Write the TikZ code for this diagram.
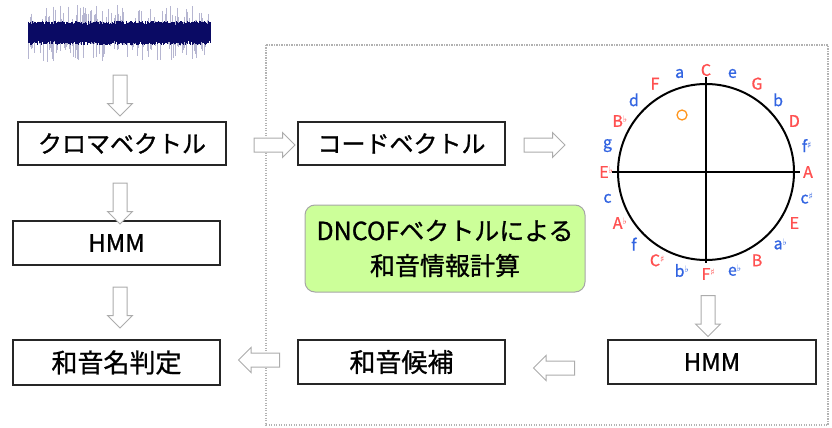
\documentclass[tikz,border=0pt]{standalone}
\usepackage{fontspec}
\setmainfont{Noto Sans CJK JP}
\newfontfamily\boxfont{Noto Sans CJK JP}[FakeBold=1.0]
\newfontfamily\symfont{DejaVu Sans}
\usetikzlibrary{shapes.arrows,calc}
\definecolor{navyw}{RGB}{10,10,100}
\definecolor{notered}{RGB}{255,80,80}
\definecolor{noteblue}{RGB}{50,100,225}
\definecolor{boxgreen}{RGB}{204,255,153}
\definecolor{ringorange}{RGB}{255,150,30}
\newcommand{\fl}{\rlap{\raisebox{0.45ex}{\fontsize{9pt}{9pt}\selectfont\symfont ♭}}}
\newcommand{\sh}{\rlap{\raisebox{0.45ex}{\fontsize{9pt}{9pt}\selectfont\symfont ♯}}}
\tikzset{
  stepbox/.style={draw=black!85, line width=1.1pt, fill=white, inner sep=0pt},
  katafont/.style={font=\boxfont\fontsize{24pt}{28pt}\selectfont},
  kanjifont/.style={font=\boxfont\fontsize{26pt}{30pt}\selectfont},
  hollowarrow/.style={single arrow, draw=gray!65, line width=1pt, fill=white,
     inner xsep=0pt, inner ysep=6.5pt, single arrow head extend=5.5pt,
     minimum height=41pt},
  noteR/.style={text=notered, font=\boxfont\fontsize{16pt}{18pt}\selectfont, inner sep=0pt},
  noteB/.style={text=noteblue, font=\boxfont\fontsize{16pt}{18pt}\selectfont, inner sep=0pt},
}
\begin{document}
\begin{tikzpicture}[x=1pt,y=-1pt]
\useasboundingbox (0,0) rectangle (832,428);

% dotted frame
\draw[gray!60, line width=1.2pt, dash pattern=on 1.2pt off 1.3pt] (266,45) rectangle (828,425);

% waveform
\pgfmathsetseed{42}
\foreach \i in {0,0.6,...,182}{
  \pgfmathsetmacro\u{8+20*rnd^5}
  \pgfmathsetmacro\d{8+21*rnd^5}
  \draw[navyw!30, line width=0.5pt] (28+\i,33-\u) -- (28+\i,33+\d);
}
\foreach \i in {0,0.5,...,182}{
  \pgfmathsetmacro\u{8+4*rnd}
  \pgfmathsetmacro\d{8+4*rnd}
  \draw[navyw, line width=0.6pt] (28+\i,33-\u) -- (28+\i,33+\d);
}
\coordinate (wave) at (120,33);

% boxes
\node[stepbox, katafont, minimum width=208pt, minimum height=43pt] (chroma) at (122,143.5) {クロマベクトル};
\node[stepbox, katafont, minimum width=207pt, minimum height=44pt] (hmmL) at (116.5,243) {HMM};
\node[stepbox, kanjifont, minimum width=207pt, minimum height=45pt] (judge) at (116.5,362.5) {和音名判定};
\node[stepbox, katafont, minimum width=207pt, minimum height=43pt] (code) at (401.5,143.5) {コードベクトル};
\node[stepbox, kanjifont, minimum width=207pt, minimum height=44pt] (cand) at (401.5,362) {和音候補};
\node[stepbox, katafont, minimum width=208pt, minimum height=44pt] (hmmR) at (712,362) {HMM};
\node[draw=gray!70, line width=1pt, fill=boxgreen, rounded corners=10pt,
      minimum width=280pt, minimum height=87pt, align=center,
      font=\boxfont\fontsize{25pt}{35pt}\selectfont] (dncof) at (445,248.5)
      {DNCOFベクトルによる\\和音情報計算};

% circle of fifths
\coordinate (cc) at (706,172);
\draw[black, line width=2pt] (cc) circle[radius=88];
\draw[black, line width=2pt] (706,77) -- (706,263);
\draw[black, line width=2pt] (612,172) -- (800,172);
\draw[ringorange, line width=1.3pt] (682,115) circle[radius=5];
\coordinate (ring) at (682,115);
\foreach \k/\lab/\st in {0/C/noteR,1/e/noteB,2/G/noteR,3/b/noteB,4/D/noteR,5/f\sh/noteB,
  6/A/noteR,7/c\sh/noteB,8/E/noteR,9/a\fl/noteB,10/B/noteR,11/e\fl/noteB,
  12/F\sh/noteR,13/b\fl/noteB,14/C\sh/noteR,15/f/noteB,16/A\fl/noteR,17/c/noteB,
  18/E\fl/noteR,19/g/noteB,20/B\fl/noteR,21/d/noteB,22/F/noteR,23/a/noteB}{
  \node[\st] (n\k) at ($(cc)+({102*cos(90-15*\k)},{-102*sin(90-15*\k)})$) {\lab};
}

% hollow block arrows
\node[hollowarrow, rotate=270] (a0) at (120,92) {};
\node[hollowarrow, rotate=270] (a1) at (120,200) {};
\node[hollowarrow, rotate=270] (a2) at (120,304) {};
\node[hollowarrow] (a3) at (271,145) {};
\node[hollowarrow] (a4) at (541,145) {};
\node[hollowarrow, rotate=270] (a5) at (708,312.5) {};
\node[hollowarrow, rotate=180] (a6) at (557.5,368) {};
\node[hollowarrow, rotate=180] (a7) at (262.5,360) {};
\end{tikzpicture}
\end{document}
